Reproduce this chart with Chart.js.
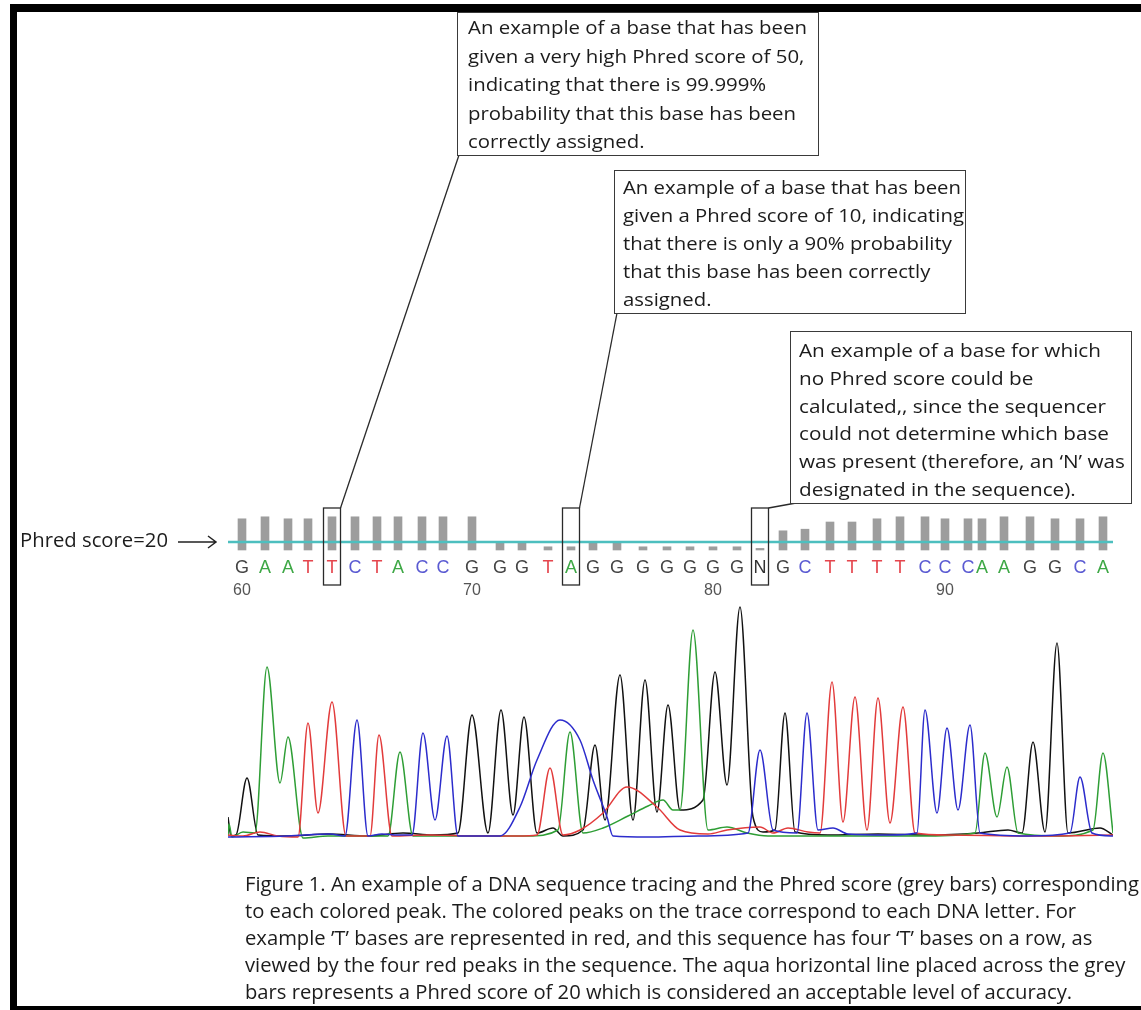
<!DOCTYPE html>
<html>
<head>
<meta charset="utf-8">
<title>Phred score trace</title>
<script src="https://cdn.jsdelivr.net/npm/chart.js@4.4.1/dist/chart.umd.min.js"></script>
<style>
  html, body { margin: 0; padding: 0; background: #fff; }
  body { width: 1141px; height: 1010px; position: relative; overflow: hidden; font-family: "Open Sans", "Noto Sans", sans-serif; color: #1c1c1c; }
  #chart { position: absolute; left: 0; top: 0; }
  #frame { position: absolute; left: 10px; top: 4px; width: 1200px; height: 1006px; box-sizing: border-box;
           border-top: 8px solid #000; border-left: 7px solid #000; border-bottom: 4px solid #000; }
  .note { position: absolute; background: #fff; border: 1.5px solid #3a3a3a; box-sizing: border-box; font-size: 19px; white-space: nowrap; }
  .txt { transform-origin: left top; }
  .txt div { white-space: nowrap; }
  #caption { position: absolute; left: 245px; top: 870px; font-size: 20px; line-height: 27px; }
  #phredLabel { position: absolute; left: 20px; top: 526px; font-size: 20px; line-height: 28px; }
</style>
</head>
<body>
<canvas id="chart" width="1141" height="1010"></canvas>
<div id="frame"></div>

<div class="note" id="note1" style="left:457px;top:12px;width:362px;height:144px;padding:0 0 0 10px;line-height:28.5px" data-w="339">
  <div class="txt">
    <div><span>An example of a base that has been</span></div>
    <div><span>given a very high Phred score of 50,</span></div>
    <div><span>indicating that there is 99.999%</span></div>
    <div><span>probability that this base has been</span></div>
    <div><span>correctly assigned.</span></div>
  </div>
</div>
<div class="note" id="note2" style="left:614px;top:170px;width:352px;height:144px;padding:2px 0 0 8px;line-height:28px" data-w="338">
  <div class="txt">
    <div><span>An example of a base that has been</span></div>
    <div><span>given a Phred score of 10, indicating</span></div>
    <div><span>that there is only a 90% probability</span></div>
    <div><span>that this base has been correctly</span></div>
    <div><span>assigned.</span></div>
  </div>
</div>
<div class="note" id="note3" style="left:790px;top:331px;width:342px;height:173px;padding:5px 0 0 8px;line-height:27.8px" data-w="302">
  <div class="txt">
    <div><span>An example of a base for which</span></div>
    <div><span>no Phred score could be</span></div>
    <div><span>calculated,, since the sequencer</span></div>
    <div><span>could not determine which base</span></div>
    <div><span>was present (therefore, an ‘N’ was</span></div>
    <div><span>designated in the sequence).</span></div>
  </div>
</div>

<div id="phredLabel" data-w="148"><div class="txt"><div><span>Phred score=20</span></div></div></div>

<div id="caption" data-w="894">
  <div class="txt">
    <div><span>Figure 1. An example of a DNA sequence tracing and the Phred score (grey bars) corresponding</span></div>
    <div><span>to each colored peak. The colored peaks on the trace correspond to each DNA letter. For</span></div>
    <div><span>example ’T’ bases are represented in red, and this sequence has four ‘T’ bases on a row, as</span></div>
    <div><span>viewed by the four red peaks in the sequence. The aqua horizontal line placed across the grey</span></div>
    <div><span>bars represents a Phred score of 20 which is considered an acceptable level of accuracy.</span></div>
  </div>
</div>

<script>
// base calls, positions 60..97
const FIRST_BASE = 60;
const BASES = ["G","A","A","T","T","C","T","A","C","C","G","G","G","T","A","G","G","G","G","G","G","G","N","G","C","T","T","T","T","C","C","C","A","A","G","G","C","A"];
// scan position of each called peak
const BASE_SCAN = [14,37,60,80,104,127,149,170,194,215,244,272,294,320,343,365,389,415,439,462,485,509,532,555,577,602,624,649,672,697,717,740,754,776,802,827,852,875];
// Phred quality per base (grey bars)
const PHRED = [78,83,78,78,83,83,83,83,83,83,83,20,20,8,8,17,17,8,8,8,8,8,4,48,52,70,70,78,83,83,78,78,78,83,83,78,78,83];
const PHRED_LINE = 20;
const HIGHLIGHT = [64, 74, 82];
const TICK_LABELS = [60, 70, 80, 90];

// trace vertices [scan, intensity]
const TRACE_G = [[0,21],[3,2],[8,3],[19,60],[30,3],[60,2],[100,4],[140,2],[175,5],[205,3],[230,5],[244,123],[260,5],[273,128],[285,23],[296,121],[309,5],[325,10],[335,2],[355,8],[367,93],[377,18],[392,163],[405,18],[417,158],[429,26],[440,133],[452,28],[475,38],[487,166],[499,53],[512,231],[525,21],[535,6],[547,8],[557,125],[567,6],[600,3],[650,4],[700,3],[750,5],[780,8],[794,5],[805,96],[817,6],[829,195],[840,5],[872,10],[885,3]];
const TRACE_A = [[0,2],[1,14],[4,1],[15,6],[27,5],[39,171],[52,55],[60,101],[75,0],[100,2],[140,2],[160,2],[172,86],[185,2],[230,2],[300,2],[330,8],[342,106],[355,5],[375,10],[400,22],[420,32],[435,38],[445,28],[452,28],[465,208],[480,8],[499,11],[519,5],[540,2],[600,2],[700,2],[747,5],[757,85],[769,21],[779,71],[790,5],[830,2],[865,8],[875,85],[885,5]];
const TRACE_T = [[0,3],[15,2],[32,6],[50,2],[70,1],[80,115],[90,25],[104,136],[118,2],[142,2],[151,103],[164,2],[200,3],[250,2],[290,2],[309,3],[322,70],[335,3],[352,8],[375,25],[399,51],[429,31],[452,8],[480,4],[499,8],[532,11],[545,5],[560,10],[580,6],[592,5],[604,156],[615,16],[627,141],[639,8],[650,140],[662,15],[675,131],[687,5],[720,3],[800,2],[885,3]];
const TRACE_C = [[0,1],[60,2],[102,4],[117,2],[129,118],[140,2],[154,4],[170,3],[184,3],[195,105],[207,18],[219,102],[230,2],[255,2],[272,2],[292,31],[309,78],[332,118],[352,98],[365,58],[379,21],[385,2],[420,1],[470,2],[520,5],[532,88],[545,8],[569,5],[579,125],[590,8],[605,10],[620,4],[660,3],[689,5],[697,128],[709,25],[719,110],[730,28],[742,113],[752,5],[800,2],[842,5],[852,61],[864,5],[885,2]];

const BASE_COLORS = { G: "#454545", A: "#3ea846", T: "#e5464e", C: "#5a5ad2", N: "#333" };
const TRACE_COLORS = { G: "#111", A: "#2e9e35", T: "#e23b3b", C: "#2c2ccc" };

// annotation boxes -> highlighted base, leader starts at box bottom-left
const NOTES = [
  { id: "note1", base: 64, dx: 2 },
  { id: "note2", base: 74, dx: 3 },
  { id: "note3", base: 82, dx: 6 },
];

// squeeze the substitute font to the measured line widths
document.querySelectorAll("[data-w]").forEach((el) => {
  const txt = el.querySelector(".txt");
  const first = txt.querySelector("span");
  const k = Number(el.dataset.w) / first.getBoundingClientRect().width;
  txt.style.transform = `scaleX(${k})`;
});

const overlayPlugin = {
  id: "overlayPlugin",
  afterDatasetsDraw(c) {
    const { ctx, chartArea, scales } = c;
    const x = scales.x, q = scales.yQ;
    const y0 = q.getPixelForValue(0);
    const y20 = q.getPixelForValue(PHRED_LINE);
    ctx.save();

    ctx.strokeStyle = "#4dbfbf";
    ctx.lineWidth = 2.5;
    ctx.beginPath();
    ctx.moveTo(chartArea.left, y20);
    ctx.lineTo(chartArea.right, y20);
    ctx.stroke();

    ctx.textAlign = "center";
    ctx.textBaseline = "middle";
    ctx.font = '18px "Liberation Sans", Arial, sans-serif';
    BASES.forEach((b, i) => {
      ctx.fillStyle = BASE_COLORS[b];
      ctx.fillText(b, x.getPixelForValue(BASE_SCAN[i]), y0 + 18);
    });
    ctx.font = '16px "Liberation Sans", Arial, sans-serif';
    ctx.fillStyle = "#555";
    TICK_LABELS.forEach((n) => {
      ctx.fillText(String(n), x.getPixelForValue(BASE_SCAN[n - FIRST_BASE]), y0 + 41);
    });

    // boxes round the annotated bases
    ctx.strokeStyle = "#2a2a2a";
    ctx.lineWidth = 1.3;
    HIGHLIGHT.forEach((n) => {
      const px = x.getPixelForValue(BASE_SCAN[n - FIRST_BASE]);
      ctx.strokeRect(px - 8.5, y0 - 42, 17, 77);
    });

    // leader lines to the note boxes
    NOTES.forEach((nt) => {
      const el = document.getElementById(nt.id);
      const sx = el.offsetLeft + nt.dx, sy = el.offsetTop + el.offsetHeight - 1;
      const px = x.getPixelForValue(BASE_SCAN[nt.base - FIRST_BASE]) + 8.5;
      ctx.beginPath();
      ctx.moveTo(sx, sy);
      ctx.lineTo(px, y0 - 42);
      ctx.stroke();
    });

    // arrow from the "Phred score=20" label
    ctx.strokeStyle = "#222";
    ctx.lineWidth = 1.5;
    ctx.beginPath();
    ctx.moveTo(178, y20);
    ctx.lineTo(216, y20);
    ctx.moveTo(208, y20 - 6);
    ctx.lineTo(216, y20);
    ctx.lineTo(208, y20 + 6);
    ctx.stroke();
    ctx.restore();
  },
};

const toXY = (arr) => arr.map(([s, v]) => ({ x: s, y: v }));
const traceSet = (key, arr) => ({
  type: "line", label: key, data: toXY(arr), yAxisID: "yT",
  borderColor: TRACE_COLORS[key], borderWidth: 1.5, pointRadius: 0,
  cubicInterpolationMode: "monotone", fill: false,
});

new Chart(document.getElementById("chart"), {
  type: "bar",
  data: {
    datasets: [
      { type: "bar", label: "Phred", data: BASE_SCAN.map((s, i) => ({ x: s, y: PHRED[i] })), yAxisID: "yQ",
        backgroundColor: "#9d9d9d", barThickness: 8 },
      traceSet("C", TRACE_C),
      traceSet("T", TRACE_T),
      traceSet("A", TRACE_A),
      traceSet("G", TRACE_G),
    ],
  },
  options: {
    responsive: false,
    animation: false,
    devicePixelRatio: 1,
    layout: { padding: { left: 228, right: 28, top: 510, bottom: 170 } },
    plugins: { legend: { display: false }, tooltip: { enabled: false } },
    scales: {
      x: { type: "linear", min: 0, max: 885, offset: false, display: false },
      yT: { type: "linear", min: -2, max: 328, display: false },
      yQ: { type: "linear", min: -725, max: 100, display: false },
    },
  },
  plugins: [overlayPlugin],
});
</script>
</body>
</html>
